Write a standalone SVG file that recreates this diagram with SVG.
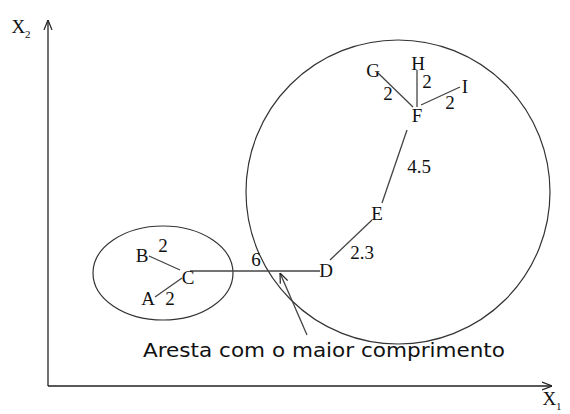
<svg xmlns="http://www.w3.org/2000/svg" width="570" height="414" viewBox="0 0 570 414">
<style>
.ax{stroke:#222;stroke-width:1.3;fill:none}
.e{stroke:#444;stroke-width:1.3;fill:none}
.c{stroke:#333;stroke-width:1.2;fill:none}
.t{font-family:"Liberation Serif",serif;font-size:19px;fill:#111;text-anchor:middle}
.s{font-family:"DejaVu Sans",sans-serif;font-size:20px;fill:#111}
</style>
<defs>
<marker id="ah" viewBox="0 0 10 10" refX="10" refY="5" markerWidth="10" markerHeight="10" markerUnits="userSpaceOnUse" orient="auto">
<polyline points="0,1 10,5 0,9" fill="none" stroke="#222" stroke-width="1.2"/>
</marker>
</defs>
<rect width="570" height="414" fill="#fff"/>
<g id="axes">
<line class="ax" x1="48" y1="386" x2="48" y2="20" marker-end="url(#ah)"/>
<line class="ax" x1="48" y1="386" x2="552" y2="386" marker-end="url(#ah)"/>
<text class="t" x="21" y="33">X<tspan font-size="11" dy="5">2</tspan></text>
<text class="t" x="552" y="405">X<tspan font-size="11" dy="5">1</tspan></text>
</g>
<g id="clusters">
<ellipse class="c" cx="163" cy="273" rx="70" ry="47"/>
<circle class="c" cx="398" cy="192" r="152"/>
</g>
<g id="connectors">
<line class="e" x1="149" y1="256" x2="180" y2="270"/>
<line class="e" x1="155" y1="297" x2="182" y2="278"/>
<line class="e" x1="190" y1="271" x2="320" y2="271"/>
<line class="e" x1="330" y1="260" x2="372" y2="220"/>
<line class="e" x1="382" y1="203" x2="407" y2="130"/>
<line class="e" x1="378" y1="73" x2="413" y2="107"/>
<line class="e" x1="417" y1="70" x2="417" y2="107"/>
<line class="e" x1="460" y1="87" x2="421" y2="105"/>
<line class="e" x1="307" y1="335" x2="280" y2="273" marker-end="url(#ah)"/>
</g>
<g id="labels">
<text class="t" x="163" y="252">2</text>
<text class="t" x="170" y="305">2</text>
<text class="t" x="256" y="266">6</text>
<text class="t" x="362" y="259">2.3</text>
<text class="t" x="419" y="173">4.5</text>
<text class="t" x="388" y="100">2</text>
<text class="t" x="427" y="88">2</text>
<text class="t" x="450" y="109">2</text>
<text class="s" x="143" y="357" textLength="362" lengthAdjust="spacingAndGlyphs">Aresta com o maior comprimento</text>
</g>
<g id="nA"><text class="t" x="148" y="305">A</text></g>
<g id="nB"><text class="t" x="142" y="262">B</text></g>
<g id="nC"><text class="t" x="188" y="284">C</text></g>
<g id="nD"><text class="t" x="326" y="277">D</text></g>
<g id="nE"><text class="t" x="377" y="220">E</text></g>
<g id="nF"><text class="t" x="417" y="122">F</text></g>
<g id="nG"><text class="t" x="373" y="77">G</text></g>
<g id="nH"><text class="t" x="418" y="70">H</text></g>
<g id="nI"><text class="t" x="465" y="93">I</text></g>
</svg>
